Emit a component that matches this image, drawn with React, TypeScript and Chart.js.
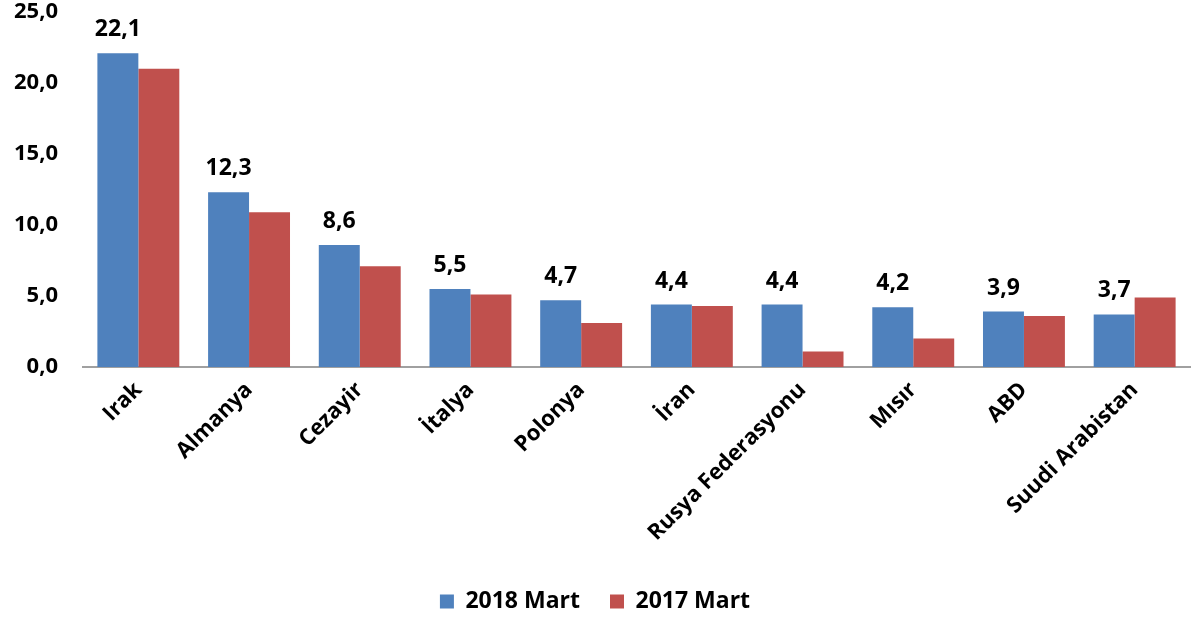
import React, { useEffect, useRef } from "react";
import { Chart, registerables } from "chart.js";

Chart.register(...registerables);

const categories = ["Irak", "Almanya", "Cezayir", "İtalya", "Polonya", "İran", "Rusya Federasyonu", "Mısır", "ABD", "Suudi Arabistan"];
const series2018 = [22.1, 12.3, 8.6, 5.5, 4.7, 4.4, 4.4, 4.2, 3.9, 3.7];
const series2017 = [21.0, 10.9, 7.1, 5.1, 3.1, 4.3, 1.1, 2.0, 3.6, 4.9];
const seriesNames = ["2018 Mart", "2017 Mart"];
const yTicks = [0, 5, 10, 15, 20, 25];

const FONT = "'Open Sans'";
const fmt = (v: number) => v.toFixed(1).replace(".", ",");

const valueLabels = {
  id: "valueLabels",
  afterDatasetsDraw(chart: any) {
    const ctx = chart.ctx;
    const meta = chart.getDatasetMeta(0);
    ctx.save();
    ctx.font = `bold 23px ${FONT}`;
    ctx.fillStyle = "#000";
    ctx.textAlign = "center";
    ctx.textBaseline = "alphabetic";
    meta.data.forEach((bar: any, i: number) => {
      ctx.fillText(fmt(series2018[i]), bar.x, bar.y - 17);
    });
    ctx.restore();
  },
};

export default function App() {
  const ref = useRef<HTMLCanvasElement | null>(null);
  useEffect(() => {
    if (!ref.current) return;
    const chart = new Chart(ref.current, {
      type: "bar",
      data: {
        labels: categories,
        datasets: [
          { label: seriesNames[0], data: series2018, backgroundColor: "#4F81BD", categoryPercentage: 0.74, barPercentage: 1 },
          { label: seriesNames[1], data: series2017, backgroundColor: "#C0504D", categoryPercentage: 0.74, barPercentage: 1 },
        ],
      },
      options: {
        animation: false,
        responsive: true,
        maintainAspectRatio: false,
        layout: { padding: { top: 0, right: 12, left: 0, bottom: 0 } },
        plugins: {
          tooltip: { enabled: false },
          legend: {
            position: "bottom",
            maxHeight: 58,
            labels: {
              boxWidth: 14,
              boxHeight: 14,
              padding: 30,
              color: "#000",
              font: { family: FONT, size: 23, weight: "bold" },
            },
          },
        },
        scales: {
          x: {
            grid: { display: false, drawTicks: false },
            border: { display: true, color: "#A0A0A0", width: 2 },
            ticks: {
              color: "#000",
              font: { family: FONT, size: 22, weight: "bold" },
              maxRotation: 45,
              minRotation: 45,
              padding: 10,
              autoSkip: false,
            },
            afterFit: (scale: any) => { scale.height = 193; },
          },
          y: {
            min: 0,
            max: 25,
            afterBuildTicks: (scale: any) => { scale.ticks = yTicks.map((v) => ({ value: v })); },
            grid: { display: false, drawTicks: false },
            border: { display: false },
            ticks: {
              color: "#000",
              font: { family: FONT, size: 22, weight: "bold" },
              padding: 25,
              callback: (v: any) => fmt(Number(v)),
            },
            afterFit: (scale: any) => {
              scale.width = 83;
              scale.paddingTop = 12;
              scale.paddingBottom = 0;
            },
          },
        },
      },
      plugins: [valueLabels],
    });
    return () => chart.destroy();
  }, []);
  return (
    <div style={{ position: "fixed", left: 0, top: 0, width: 1202, height: 618, background: "#fff" }}>
      <canvas ref={ref} />
    </div>
  );
}
